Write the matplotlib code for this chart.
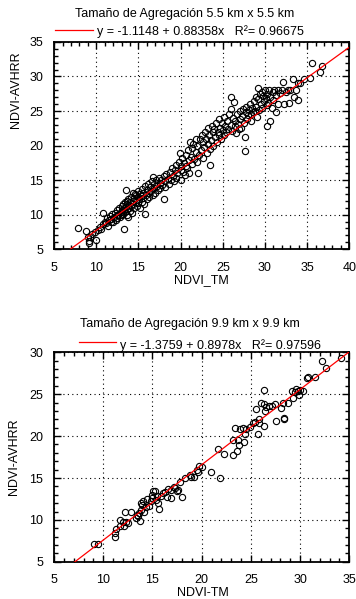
import matplotlib
matplotlib.use("Agg")
import matplotlib.pyplot as plt
from matplotlib.ticker import MultipleLocator

plt.rcParams['font.family'] = ['Liberation Sans', 'DejaVu Sans']

# --- data (approximate) ---
tm_55 = [7.8, 8.8, 9.0, 9.1, 9.1, 9.3, 9.5, 10.0, 9.8, 10.2, 10.4, 10.6, 10.8, 10.85, 11.0, 11.2,
         11.3, 11.4, 11.5, 11.6, 11.7, 11.8, 11.9, 12.0, 12.1, 12.2, 12.3, 12.4, 12.5, 12.5, 12.6,
         12.7, 12.8, 12.9, 13.0, 13.0, 13.1, 13.2, 13.2, 13.3, 13.3, 13.4, 13.4, 13.5, 13.5, 13.6,
         13.6, 13.7, 13.7, 13.8, 13.8, 13.9, 14.0, 14.0, 14.1, 14.1, 14.2, 14.3, 14.3, 14.4, 14.5,
         14.5, 14.6, 14.7, 14.7, 14.8, 14.9, 15.0, 15.0, 15.1, 15.2, 15.2, 15.3, 15.4, 15.4, 15.5,
         15.6, 15.7, 15.8, 15.8, 15.9, 16.0, 16.0, 16.1, 16.2, 16.3, 16.4, 16.5, 16.6, 16.7, 16.7,
         16.8, 16.9, 17.0, 17.1, 17.2, 17.3, 17.4, 17.5, 17.6, 17.7, 17.8, 18.0, 18.0, 18.1, 18.2,
         18.3, 18.5, 18.6, 18.8, 18.9, 19.0, 19.1, 19.2, 19.3, 19.4, 19.5, 19.6, 19.8, 19.9, 20.0,
         20.0, 20.1, 20.2, 20.3, 20.4, 20.5, 20.6, 20.7, 20.8, 20.9, 21.0, 21.05, 21.1, 21.2, 21.3,
         21.4, 21.5, 21.6, 21.8, 21.8, 21.9, 22.0, 22.1, 22.2, 22.3, 22.4, 22.5, 22.6, 22.7, 22.8,
         22.9, 23.0, 23.1, 23.2, 23.3, 23.4, 23.5, 23.5, 23.6, 23.7, 23.8, 23.9, 24.0, 24.1, 24.2,
         24.3, 24.4, 24.5, 24.6, 24.7, 24.8, 24.9, 25.0, 25.1, 25.2, 25.3, 25.4, 25.5, 25.6, 25.8,
         25.96, 25.96, 26.0, 26.1, 26.2, 26.3, 26.4, 26.5, 26.6, 26.7, 26.8, 26.9, 27.0, 27.1, 27.2,
         27.3, 27.4, 27.5, 27.6, 27.6, 27.7, 27.8, 27.9, 28.0, 28.1, 28.2, 28.3, 28.4, 28.5, 28.6,
         28.7, 28.8, 28.9, 29.0, 29.1, 29.2, 29.2, 29.3, 29.4, 29.5, 29.6, 29.7, 29.8, 29.9, 30.0,
         30.1, 30.2, 30.2, 30.3, 30.4, 30.5, 30.6, 30.6, 30.8, 30.9, 31.0, 31.1, 31.3, 31.3, 31.5,
         31.6, 31.8, 32.0, 32.2, 32.3, 32.5, 32.7, 32.9, 33.0, 33.3, 33.4, 33.7, 33.9, 33.9, 34.2,
         34.6, 35.3, 35.6, 36.5, 36.8]
avhrr_55 = [8.0, 7.6, 6.7, 6.2, 5.9, 6.8, 7.2, 6.4, 7.5, 7.8, 8.2, 7.9, 8.6, 10.3, 9.0, 8.8,
            9.5, 8.4, 9.2, 9.8, 8.9, 9.4, 10.1, 9.0, 9.6, 10.3, 9.2, 9.9, 10.6, 9.5, 10.0,
            10.9, 9.7, 10.4, 11.2, 9.9, 10.7, 11.5, 10.1, 7.9, 10.9, 11.8, 10.4, 13.5, 11.1, 10.0,
            12.0, 10.8, 11.5, 12.3, 9.6, 11.0, 11.8, 10.5, 12.6, 11.3, 10.2, 12.0, 13.1, 11.6, 12.4,
            10.9, 13.0, 11.9, 12.8, 11.3, 12.5, 13.4, 11.7, 12.2, 13.0, 11.0, 12.7, 13.7, 11.9, 12.4,
            13.2, 11.6, 10.1, 14.2, 12.9, 13.6, 12.2, 14.5, 13.1, 12.6, 14.0, 13.4, 14.8, 15.5, 12.8,
            13.9, 14.4, 13.2, 15.0, 14.1, 13.6, 15.3, 14.6, 13.9, 15.0, 14.3, 12.2, 15.6, 14.8, 14.0,
            15.9, 15.2, 14.5, 16.2, 15.0, 16.8, 15.6, 14.9, 16.4, 17.2, 15.3, 16.0, 17.6, 18.9, 16.5,
            15.0, 17.0, 18.2, 16.2, 17.5, 15.8, 18.6, 17.1, 16.7, 19.3, 17.9, 16.0, 20.5, 18.4, 17.3,
            19.6, 20.2, 18.0, 20.9, 19.0, 17.6, 20.0, 16.0, 18.7, 20.9, 19.4, 21.5, 18.2, 20.5, 19.8,
            22.0, 21.0, 18.9, 20.2, 22.5, 21.5, 17.2, 19.5, 20.8, 22.9, 21.9, 20.0, 22.4, 21.2, 23.2,
            20.5, 22.0, 23.8, 21.6, 22.6, 20.9, 23.3, 22.2, 21.5, 24.2, 22.8, 21.9, 23.5, 22.4, 24.6,
            27.0, 25.3, 23.0, 22.1, 24.0, 26.3, 22.8, 23.6, 21.8, 24.5, 23.1, 22.4, 25.0, 23.8, 22.6,
            24.3, 25.3, 23.2, 21.3, 19.2, 24.8, 25.6, 23.9, 24.4, 25.1, 26.0, 24.6, 23.5, 25.4, 24.8,
            26.4, 25.0, 27.0, 25.6, 24.2, 28.4, 26.8, 25.2, 27.4, 26.0, 27.8, 25.5, 27.2, 26.4, 28.0,
            26.9, 22.8, 25.8, 27.5, 26.2, 28.1, 23.5, 27.0, 25.5, 27.8, 26.6, 28.0, 24.9, 27.3, 28.1,
            26.0, 27.6, 28.1, 29.2, 26.0, 27.8, 28.0, 26.2, 28.0, 29.6, 27.0, 28.0, 29.0, 26.6, 29.1,
            29.7, 29.8, 31.9, 30.6, 31.5]

tm_99 = [9.1, 9.5, 11.2, 11.2, 11.3, 11.7, 12.1, 11.7, 12.0, 12.3, 12.5, 12.2, 12.8,
         13.3, 13.5, 13.6, 13.4, 13.75, 13.8, 13.8, 13.9, 14.0, 14.1, 14.3, 14.4, 14.6, 14.8,
         14.9, 15.0, 15.1, 15.3, 15.4, 15.5, 15.6, 15.7, 15.9, 16.1, 16.3, 16.5, 16.6, 16.9,
         16.9, 17.2, 17.3, 17.5, 17.6, 17.8, 18.0, 18.3, 18.8, 18.9, 19.2, 19.5, 19.6, 19.75,
         20.0, 20.9, 21.9, 21.7, 22.3, 23.2, 23.6, 23.8, 24.3, 23.2, 23.7, 24.4, 23.4, 23.9,
         24.2, 24.5, 24.9, 25.2, 25.4, 25.8, 25.8, 25.7, 26.3, 25.5, 26.0, 26.3, 26.4, 26.5,
         26.8, 27.1, 27.5, 26.3, 27.6, 28.4, 28.4, 28.1, 28.3, 28.8, 29.3, 29.2, 29.5, 29.6,
         29.8, 30.0, 30.3, 29.9, 30.7, 30.8, 31.55, 32.2, 32.6, 34.2]
avhrr_99 = [7.1, 7.1, 8.0, 8.5, 8.9, 9.3, 9.3, 10.0, 9.7, 9.7, 9.6, 11.0, 11.0,
            10.2, 10.5, 10.8, 10.6, 9.9, 11.2, 12.0, 11.8, 12.2, 11.0, 11.5, 12.5, 11.7, 12.2,
            12.6, 13.0, 13.5, 13.5, 12.4, 12.9, 12.0, 11.3, 12.9, 13.2, 13.3, 12.7, 13.7, 13.6,
            12.6, 13.9, 13.8, 13.5, 13.6, 14.5, 12.7, 15.0, 15.4, 15.1, 15.1, 16.0, 15.7, 16.4,
            16.3, 15.7, 15.0, 18.4, 17.9, 17.8, 18.2, 18.9, 19.3, 19.5, 19.5, 20.2, 21.0, 20.9,
            21.0, 20.8, 21.1, 21.5, 21.7, 22.0, 21.5, 20.3, 21.2, 23.2, 23.9, 23.8, 23.0, 23.5,
            23.6, 23.6, 23.8, 25.5, 21.8, 22.0, 22.2, 23.3, 24.0, 24.0, 24.5, 25.4, 25.2, 25.6,
            25.4, 25.5, 25.4, 24.9, 26.9, 27.0, 27.1, 29.0, 28.1, 29.3]

fit_55 = (-1.1148, 0.88358, 0.96675)
fit_99 = (-1.3759, 0.8978, 0.97596)

fig = plt.figure(figsize=(3.56, 5.99), dpi=100)
ax1 = fig.add_axes([0.152, 0.584, 0.829, 0.346])
ax2 = fig.add_axes([0.152, 0.062, 0.829, 0.350])


def style_axes(ax, xmax, ymax):
    ax.set_xlim(5, xmax)
    ax.set_ylim(5, ymax)
    ax.xaxis.set_major_locator(MultipleLocator(5))
    ax.yaxis.set_major_locator(MultipleLocator(5))
    ax.xaxis.set_minor_locator(MultipleLocator(1))
    ax.yaxis.set_minor_locator(MultipleLocator(1))
    ax.tick_params(which='both', direction='in', top=True, right=True,
                   labelsize=9, colors='black', width=1)
    ax.tick_params(which='major', length=5)
    ax.tick_params(which='minor', length=3)
    ax.tick_params(axis='x', pad=9)
    ax.tick_params(axis='y', pad=8)
    ax.grid(True, which='major', color='black', linestyle=(0, (1, 3)), linewidth=0.8)
    for s in ax.spines.values():
        s.set_linewidth(1.3)


def fit_line(ax, x, y, fit, xmax):
    a, b, r2 = fit
    ax.plot(x, y, 'o', mfc='none', mec='black', ms=4.5, mew=0.8, zorder=3)
    xs = [5, xmax]
    ax.plot(xs, [a + b * v for v in xs], color='red', lw=0.9, zorder=4)


style_axes(ax1, 40, 35)
fit_line(ax1, tm_55, avhrr_55, fit_55, 40)
style_axes(ax2, 35, 30)
fit_line(ax2, tm_99, avhrr_99, fit_99, 35)

# titles and legends
fig.text(0.52, 0.977, 'Tamaño de Agregación 5.5 km x 5.5 km', ha='center', va='center', fontsize=9)
fig.add_artist(plt.Line2D([0.154, 0.261], [0.9505, 0.9505], color='red', lw=0.9))
fig.text(0.272, 0.947, 'y = -1.1148 + 0.88358x   R²= 0.96675', ha='left', va='center', fontsize=9)

fig.text(0.532, 0.459, 'Tamaño de Agregación 9.9 km x 9.9 km', ha='center', va='center', fontsize=9)
fig.add_artist(plt.Line2D([0.222, 0.326], [0.4286, 0.4286], color='red', lw=0.9))
fig.text(0.337, 0.423, 'y = -1.3759 + 0.8978x   R²= 0.97596', ha='left', va='center', fontsize=9)

# axis labels
ax1.text(-0.129, 0.768, 'NDVI-AVHRR', transform=ax1.transAxes, rotation=90,
         ha='center', va='center', fontsize=9)
ax1.text(0.50, -0.148, 'NDVI_TM', transform=ax1.transAxes, ha='center', va='center', fontsize=9)
ax2.text(-0.137, 0.5, 'NDVI-AVHRR', transform=ax2.transAxes, rotation=90,
         ha='center', va='center', fontsize=9)
ax2.text(0.503, -0.150, 'NDVI-TM', transform=ax2.transAxes, ha='center', va='center', fontsize=9)

fig.savefig('out.png', dpi=100)
